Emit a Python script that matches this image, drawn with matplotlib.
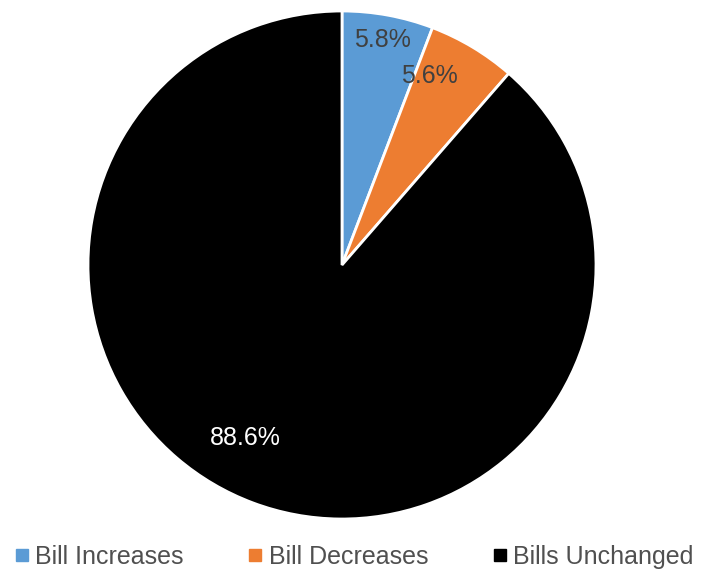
import matplotlib.pyplot as plt
import numpy as np
from matplotlib.lines import Line2D

plt.rcParams['font.family'] = ['Liberation Sans', 'DejaVu Sans']

labels = ['Bill Increases', 'Bill Decreases', 'Bills Unchanged']
shares = [5.8, 5.6, 88.6]
colors = ['#5B9BD5', '#ED7D31', '#000000']
text_colors = ['#404040', '#404040', '#FFFFFF']
# label positions as (angle in degrees, fraction of radius)
label_pos = [(79.7, 0.90), (65.2, 0.82), (240.7, 0.78)]

fig = plt.figure(figsize=(7.02, 5.73), dpi=100)
ax = fig.add_axes([(342 - 254) / 702, (573 - 519) / 573, 508 / 702, 508 / 573])

wedges, _ = ax.pie(shares, colors=colors, startangle=90, counterclock=False,
                   radius=1, wedgeprops=dict(edgecolor='white', linewidth=2))
ax.set_xlim(-1.0, 1.0)
ax.set_ylim(-1.0, 1.0)
ax.set_aspect('equal')
ax.axis('off')

for s, (ang, r), c in zip(shares, label_pos, text_colors):
    a = np.deg2rad(ang)
    ax.text(r * np.cos(a), r * np.sin(a), f'{s}%', ha='center', va='center',
            fontsize=18, color=c)

handles = [Line2D([], [], marker='s', linestyle='', markersize=8, color=c) for c in colors]
fig.legend(handles, labels, loc='center', bbox_to_anchor=(0.505, 1 - 557 / 573), ncol=3,
           frameon=False, fontsize=18, handlelength=0.5, handletextpad=0.3,
           columnspacing=2.6, labelcolor='#505050', borderaxespad=0, borderpad=0)

fig.savefig('out.png', dpi=100)
